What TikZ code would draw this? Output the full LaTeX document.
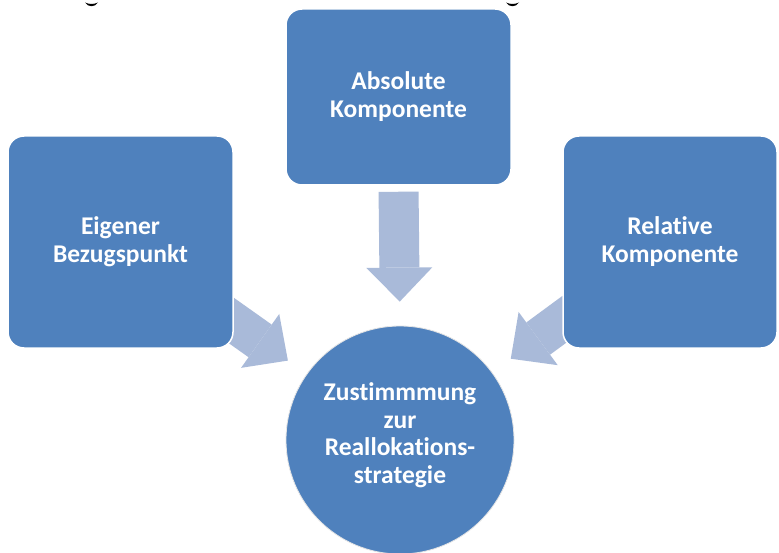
\documentclass[tikz,border=0pt]{standalone}
\usepackage{fontspec}
\setmainfont{Carlito}[Ligatures=NoCommon]
\usetikzlibrary{arrows.meta,backgrounds}
\definecolor{boxblue}{HTML}{4F81BD}
\definecolor{arrowblue}{HTML}{A9BAD9}
\begin{document}
\begin{tikzpicture}[x=1pt,y=-1pt,
  box/.style={draw=white, line width=1.5pt, fill=boxblue, rounded corners=16pt,
    text=white, font=\bfseries\fontsize{25.5}{28}\selectfont, align=center, inner sep=0pt},
  circbox/.style={circle, draw=gray!20, line width=0.8pt, fill=boxblue,
    inner sep=0pt, minimum size=228pt},
  circtext/.style={text=white, font=\bfseries\fontsize{25.5}{27.5}\selectfont, align=center, inner sep=0pt},
  fatarrow/.style={draw=arrowblue, line width=40pt,
    -{Triangle[width=66pt,length=34pt,line width=0pt,fill=arrowblue]}}
]
\useasboundingbox (0,0) rectangle (779,553);
% cropped title fragments
\fill[black] (85,2.5) .. controls (88,7.5) and (95,7.5) .. (98,2.5) .. controls (94,4.5) and (89,4.5) .. cycle;
\fill[black] (506,2.5) .. controls (509,7.5) and (516,7.5) .. (519,2.5) .. controls (515,4.5) and (510,4.5) .. cycle;

\node[box, minimum width=225pt, minimum height=176pt] (abs) at (398.5,97) {Absolute\\Komponente};
\node[box, minimum width=225pt, minimum height=212pt] (eig) at (120.5,242) {Eigener\\Bezugspunkt};
\node[box, minimum width=214pt, minimum height=212pt] (rel) at (670,242) {Relative\\Komponente};
\node[circbox] (zus) at (400,440) {};
\node[circtext] (zustext) at (400,435)
  {Zustimmmung\\zur\\Reallokations-\\strategie};

\begin{pgfonlayer}{background}
\fill[white] (0,0) rectangle (779,553);
\draw[fatarrow, shorten <=6pt, shorten >=24pt] (abs.south) -- (zus.north);
\draw[fatarrow, shorten <=-15pt, shorten >=23pt] (eig) -- (zus);
\draw[fatarrow, shorten <=-15pt, shorten >=23pt] (rel) -- (zus);
\end{pgfonlayer}
\end{tikzpicture}
\end{document}
